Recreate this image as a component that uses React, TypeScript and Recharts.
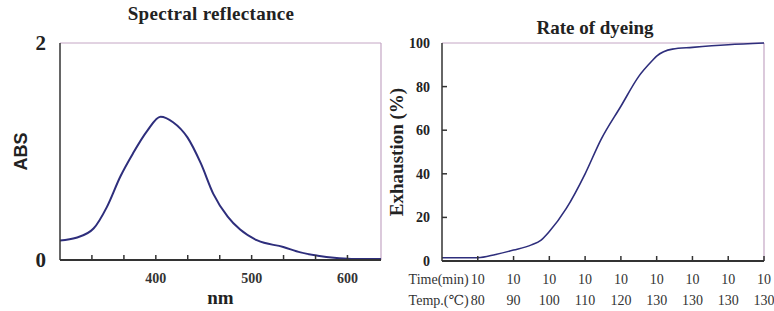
import React from 'react';
import { LineChart, Line, XAxis, YAxis, ReferenceLine } from 'recharts';

// Spectral reflectance
const wavelengthNm = [300, 317, 335, 349, 363, 376, 391, 405, 418, 433, 447, 460, 475, 488, 506, 533, 551, 569, 586, 604, 636];
const absValues = [0.18, 0.205, 0.29, 0.49, 0.77, 0.98, 1.19, 1.32, 1.27, 1.13, 0.89, 0.61, 0.40, 0.28, 0.18, 0.12, 0.07, 0.04, 0.02, 0.01, 0.01];
const nmTicks = [333.3, 366.7, 400, 433.3, 466.7, 500, 533.3, 566.7, 600];
const nmLabels = ['', '', '400', '', '', '500', '', '', '600'];
const absTicks = [0, 2];

// Rate of dyeing
const dyeStep = [0, 1, 1.5, 2, 2.5, 2.77, 3, 3.47, 4, 4.44, 5, 5.5, 5.9, 6, 6.44, 7, 8, 9];
const exhaustion = [1.5, 1.5, 3, 5, 7.4, 9.6, 13.5, 24, 40, 55.6, 71, 84.7, 92.3, 94, 97.2, 98, 99.2, 100];
const stepTicks = [1, 2, 3, 4, 5, 6, 7, 8, 9];
const timeLabels = ['10', '10', '10', '10', '10', '10', '10', '10', '10'];
const tempLabels = ['80', '90', '100', '110', '120', '130', '130', '130', '130'];
const exhaustionTicks = [0, 20, 40, 60, 80, 100];

const spectralData = wavelengthNm.map((nm, i) => ({ nm, abs: absValues[i] }));
const dyeData = dyeStep.map((s, i) => ({ s, e: exhaustion[i] }));

const SERIF = '"Liberation Serif", "DejaVu Serif", serif';
const SANS = '"Liberation Sans", Arial, sans-serif';
const LINE = '#2e2e7c';
const AXIS = '#333';
const BORDER = '#c4a6c4';

const NmTick = (props: any) => {
  const { x, y, index } = props;
  const label = nmLabels[index] ?? '';
  return (
    <g>
      <line x1={x} x2={x} y1={y} y2={y - 5} stroke={AXIS} strokeWidth={1.5} />
      {label && (
        <text x={x} y={y + 23} textAnchor="middle" fontFamily={SERIF} fontWeight="bold" fontSize={14} fill="#333">
          {label}
        </text>
      )}
    </g>
  );
};

const AbsTick = (props: any) => {
  const { x, y, payload } = props;
  return (
    <text x={x - 14} y={y + 7} textAnchor="end" fontFamily={SERIF} fontWeight="bold" fontSize={21} fill="#222">
      {payload.value}
    </text>
  );
};

const StepTick = (props: any) => {
  const { x, y, index } = props;
  return (
    <g>
      <line x1={x} x2={x} y1={y} y2={y - 5} stroke={AXIS} strokeWidth={1.5} />
      <text x={x} y={y + 23} textAnchor="middle" fontFamily={SERIF} fontSize={14} fill="#333">
        {timeLabels[index]}
      </text>
      <text x={x} y={y + 44} textAnchor="middle" fontFamily={SERIF} fontSize={14} fill="#333">
        {tempLabels[index]}
      </text>
      {index === 0 && (
        <g>
          <text x={x - 9} y={y + 23} textAnchor="end" fontFamily={SERIF} fontSize={14} fill="#333">
            Time(min)
          </text>
          <text x={x - 9} y={y + 44} textAnchor="end" fontFamily={SERIF} fontSize={14} fill="#333">
            Temp.(℃)
          </text>
        </g>
      )}
    </g>
  );
};

const ExhTick = (props: any) => {
  const { x, y, payload } = props;
  const v = payload.value;
  return (
    <g>
      {v !== 0 && v !== 100 && <line x1={x} x2={x + 5} y1={y} y2={y} stroke={AXIS} strokeWidth={1.5} />}
      <text x={x - 12} y={y + 5} textAnchor="end" fontFamily={SERIF} fontWeight="bold" fontSize={14} fill="#222">
        {v}
      </text>
    </g>
  );
};

export default function App() {
  return (
    <div style={{ position: 'absolute', left: 0, top: 0, width: 774, height: 311, background: '#fff', overflow: 'hidden' }}>
      <div style={{ position: 'absolute', left: 0, top: 0 }}>
        <LineChart width={390} height={311} data={spectralData} margin={{ top: 43, right: 9, bottom: 21, left: 0 }}>
          <XAxis
            dataKey="nm"
            type="number"
            domain={[300, 635]}
            ticks={nmTicks}
            interval={0}
            allowDataOverflow
            height={30}
            tickSize={0}
            tickMargin={0}
            tickLine={false}
            axisLine={{ stroke: AXIS, strokeWidth: 2 }}
            tick={(p: any) => <NmTick {...p} />}
            label={{ value: 'nm', position: 'insideBottom', offset: -14, style: { fontFamily: SERIF, fontWeight: 'bold', fontSize: 19, fill: '#222' } }}
          />
          <YAxis
            type="number"
            domain={[0, 2]}
            ticks={absTicks}
            width={60}
            tickSize={0}
            tickMargin={0}
            tickLine={false}
            axisLine={{ stroke: AXIS, strokeWidth: 1.5 }}
            tick={(p: any) => <AbsTick {...p} />}
            label={{ value: 'ABS', angle: -90, position: 'insideLeft', offset: 21, style: { fontFamily: SANS, fontWeight: 'bold', fontSize: 18, fill: '#222', textAnchor: 'middle' } }}
          />
          <ReferenceLine y={2} stroke={BORDER} strokeWidth={1} ifOverflow="extendDomain" />
          <ReferenceLine x={635} stroke={BORDER} strokeWidth={1.2} />
          <Line type="monotone" dataKey="abs" stroke={LINE} strokeWidth={2} dot={false} isAnimationActive={false} />
        </LineChart>
        <div style={{ position: 'absolute', left: 0, top: 3, width: 422, textAlign: 'center', fontFamily: SERIF, fontWeight: 'bold', fontSize: 19, color: '#222', letterSpacing: 0.3 }}>
          Spectral reflectance
        </div>
      </div>
      <div style={{ position: 'absolute', left: 380, top: 0 }}>
        <LineChart width={394} height={311} data={dyeData} margin={{ top: 43, right: 10, bottom: 20, left: 0 }}>
          <XAxis
            dataKey="s"
            type="number"
            domain={[0, 9]}
            ticks={stepTicks}
            interval={0}
            height={30}
            tickSize={0}
            tickMargin={0}
            tickLine={false}
            axisLine={{ stroke: AXIS, strokeWidth: 2 }}
            tick={(p: any) => <StepTick {...p} />}
          />
          <YAxis
            type="number"
            domain={[0, 100]}
            ticks={exhaustionTicks}
            interval={0}
            width={62}
            tickSize={0}
            tickMargin={0}
            tickLine={false}
            axisLine={{ stroke: AXIS, strokeWidth: 1.5 }}
            tick={(p: any) => <ExhTick {...p} />}
            label={{ value: 'Exhaustion (%)', angle: -90, position: 'insideLeft', offset: 16, style: { fontFamily: SERIF, fontWeight: 'bold', fontSize: 19, fill: '#222', textAnchor: 'middle' } }}
          />
          <ReferenceLine y={100} stroke={BORDER} strokeWidth={1} />
          <ReferenceLine x={9} stroke={BORDER} strokeWidth={1.2} />
          <Line type="monotone" dataKey="e" stroke={LINE} strokeWidth={1.6} dot={false} isAnimationActive={false} />
        </LineChart>
        <div style={{ position: 'absolute', left: 55, top: 17, width: 320, textAlign: 'center', fontFamily: SERIF, fontWeight: 'bold', fontSize: 19, color: '#222' }}>
          Rate of dyeing
        </div>
      </div>
    </div>
  );
}
